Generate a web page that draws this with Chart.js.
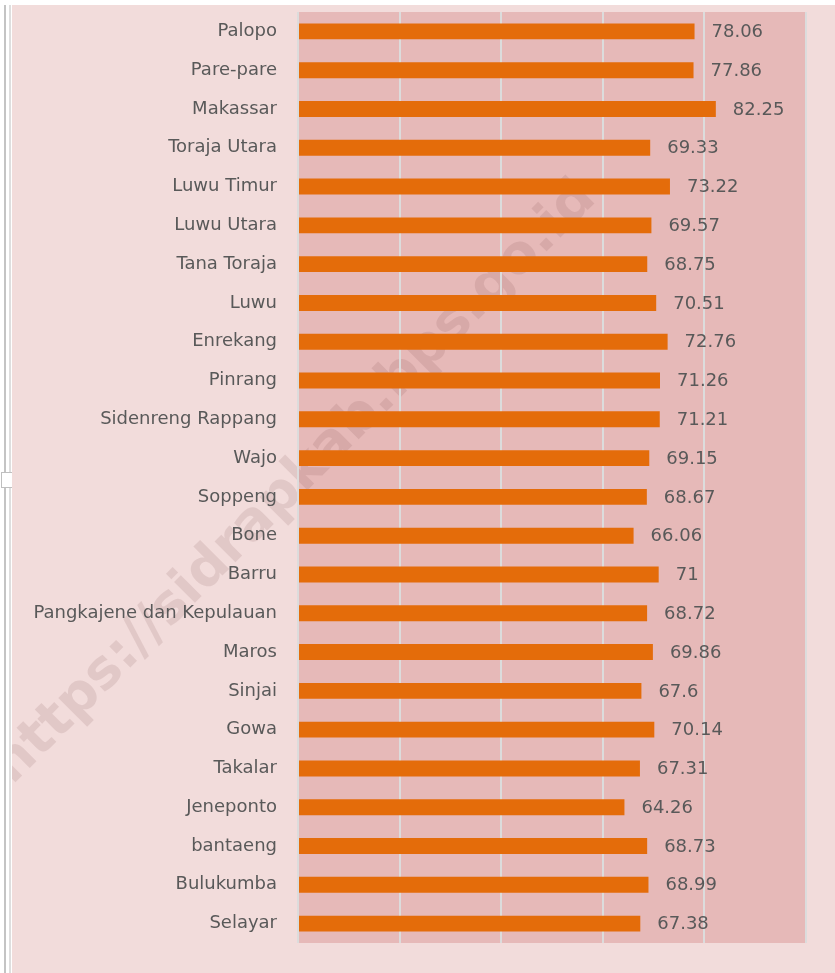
<!DOCTYPE html>
<html>
<head>
<meta charset="utf-8">
<script src="https://cdn.jsdelivr.net/npm/chart.js@4/dist/chart.umd.min.js"></script>
<style>
  body { margin: 0; background: #fff; }
  #frame { position: absolute; left: 12px; top: 5px; width: 823px; height: 968px; background: #f2dcdb; }
  .edge { position: absolute; top: 5px; height: 968px; }
  #handle { position: absolute; left: 1px; top: 472px; width: 10px; height: 14px; background: #fff; border: 1px solid #bfbfbf; }
</style>
</head>
<body>
<div class="edge" style="left:4px;width:2px;background:#c4c4c4"></div>
<div class="edge" style="left:9px;width:2px;background:#dedede"></div>
<div id="handle"></div>
<div id="frame"><canvas id="chart" width="823" height="968"></canvas></div>
<script>
const categories = ['Palopo', 'Pare-pare', 'Makassar', 'Toraja Utara', 'Luwu Timur', 'Luwu Utara', 'Tana Toraja', 'Luwu',
    'Enrekang', 'Pinrang', 'Sidenreng Rappang', 'Wajo', 'Soppeng', 'Bone', 'Barru', 'Pangkajene dan Kepulauan',
    'Maros', 'Sinjai', 'Gowa', 'Takalar', 'Jeneponto', 'bantaeng', 'Bulukumba', 'Selayar']
const values = [78.06, 77.86, 82.25, 69.33, 73.22, 69.57, 68.75, 70.51,
    72.76, 71.26, 71.21, 69.15, 68.67, 66.06, 71, 68.72,
    69.86, 67.6, 70.14, 67.31, 64.26, 68.73, 68.99, 67.38]
const axisMin = 0
const axisMax = 100
const axisStep = 20
const watermark = 'https://sidrapkab.bps.go.id'

const textColor = '#595959'
const labelFont = { family: 'DejaVu Sans', size: 18 }

// plot background + watermark go under grid and bars
const backdrop = {
    id: 'backdrop',
    beforeDraw(chart) {
        const { ctx, chartArea: a } = chart
        ctx.save()
        ctx.fillStyle = '#e6b9b8'
        ctx.fillRect(a.left, a.top, a.right - a.left, a.bottom - a.top)

        ctx.translate(283, 478)
        ctx.rotate(-Math.PI / 4)
        ctx.font = 'bold 54px "DejaVu Sans"'
        ctx.textAlign = 'center'
        ctx.textBaseline = 'middle'
        ctx.fillStyle = 'rgba(110, 60, 60, 0.12)'
        ctx.fillText(watermark, 0, 0)
        ctx.restore()
    }
}

const valueLabels = {
    id: 'valueLabels',
    afterDatasetsDraw(chart) {
        const { ctx } = chart
        const meta = chart.getDatasetMeta(0)
        ctx.save()
        ctx.font = labelFont.size + 'px "' + labelFont.family + '"'
        ctx.fillStyle = textColor
        ctx.textAlign = 'left'
        ctx.textBaseline = 'middle'
        meta.data.forEach((bar, i) => {
            ctx.fillText(String(values[i]), bar.x + 17, bar.y + 1)
        })
        ctx.restore()
    }
}

new Chart(document.getElementById('chart').getContext('2d'), {
    type: 'bar',
    data: {
        labels: categories,
        datasets: [{
            data: values,
            backgroundColor: '#e46c0a',
            borderWidth: 0,
            categoryPercentage: 1,
            barPercentage: 0.41
        }]
    },
    options: {
        indexAxis: 'y',
        responsive: false,
        animation: false,
        layout: { padding: { top: 7, right: 29, bottom: 30, left: 0 } },
        plugins: {
            legend: { display: false },
            tooltip: { enabled: false }
        },
        scales: {
            x: {
                min: axisMin,
                max: axisMax,
                ticks: { stepSize: axisStep, display: false },
                grid: { color: '#dcdcdc', lineWidth: 2, drawTicks: false },
                border: { display: false }
            },
            y: {
                grid: { display: false, drawTicks: false },
                border: { display: false },
                ticks: { color: textColor, font: labelFont, padding: 21, autoSkip: false },
                afterFit(scale) {
                    scale.width = 286
                    scale.paddingTop = 0
                    scale.paddingBottom = 0
                }
            }
        }
    },
    plugins: [backdrop, valueLabels]
})
</script>
</body>
</html>
